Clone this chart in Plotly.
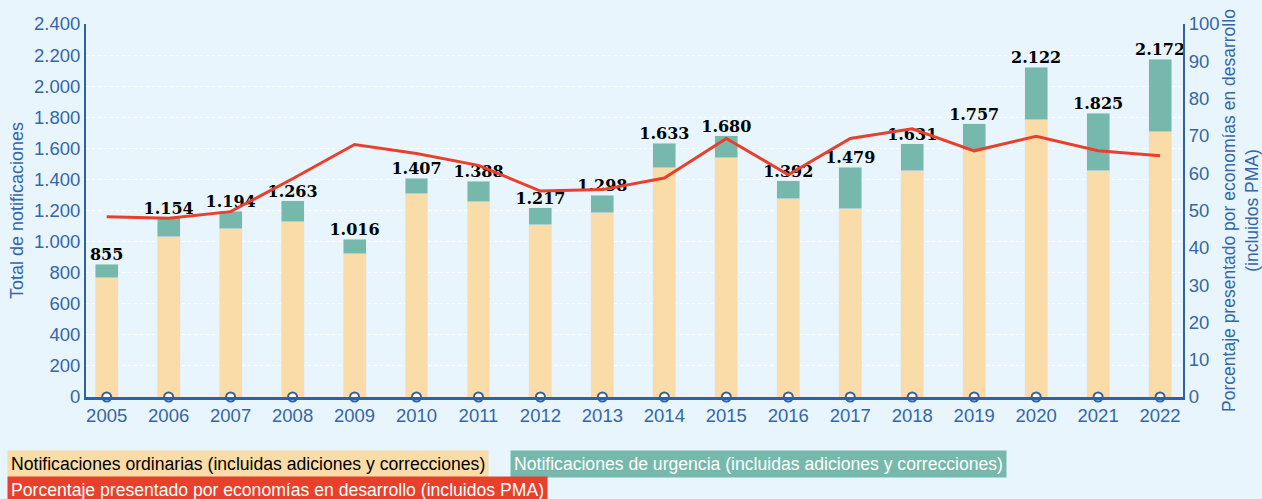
import plotly.graph_objects as go

years = [str(y) for y in range(2005, 2023)]
ordinarias = [768, 1031, 1083, 1128, 922, 1308, 1257, 1109, 1186, 1475, 1540, 1276, 1212, 1456, 1591, 1784, 1456, 1707]
urgencia = [87, 123, 111, 135, 94, 99, 131, 108, 112, 158, 140, 116, 267, 175, 166, 338, 369, 465]
porcentaje = [48.3, 47.9, 49.7, 58.5, 67.7, 65.3, 62.1, 55.2, 55.6, 58.7, 69.3, 59.6, 69.3, 71.9, 66.0, 69.9, 66.0, 64.7]
totales = [o + u for o, u in zip(ordinarias, urgencia)]
left_ticks = list(range(0, 2401, 200))
right_ticks = list(range(0, 101, 10))

BG = "#E8F5FD"
BLUE = "#2E62A4"
TICK = "#3566A6"
PEACH = "#FADCA8"
TEAL = "#76B9AC"
RED = "#E8402C"

fig = go.Figure()
fig.add_trace(go.Bar(x=years, y=ordinarias, marker_color=PEACH, width=0.37,
                     name="Notificaciones ordinarias (incluidas adiciones y correcciones)"))
fig.add_trace(go.Bar(x=years, y=urgencia, marker_color=TEAL, width=0.37,
                     name="Notificaciones de urgencia (incluidas adiciones y correcciones)"))
fig.add_trace(go.Scatter(x=years, y=porcentaje, mode="lines", yaxis="y2",
                         line=dict(color=RED, width=3),
                         name="Porcentaje presentado por economías en desarrollo (incluidos PMA)"))
fig.add_trace(go.Scatter(x=years, y=totales, mode="text", texttemplate="%{y:,d}",
                         textposition="top center",
                         textfont=dict(family="DejaVu Serif", size=16, color="black", weight="bold"),
                         showlegend=False, cliponaxis=False))
fig.add_trace(go.Scatter(x=years, y=[0] * len(years), mode="markers", cliponaxis=False,
                         marker=dict(size=9, color="white", line=dict(color=BLUE, width=2)),
                         showlegend=False))

fig.update_layout(
    width=1262, height=499,
    barmode="stack",
    showlegend=False,
    separators=",.",
    paper_bgcolor=BG, plot_bgcolor=BG,
    margin=dict(l=86, r=79, t=24, b=102),
    font=dict(family="Liberation Sans, Arial", color=TICK, size=18),
    xaxis=dict(type="category", range=[-0.334, 17.37], showline=True, linecolor=BLUE,
               linewidth=2.5, ticks="", showgrid=False, automargin=False,
               tickfont=dict(size=18.5, color=TICK)),
    yaxis=dict(range=[0, 2400], tickvals=left_ticks, tickformat=",d", showline=True,
               linecolor=BLUE, linewidth=2, gridcolor="white", griddash="dot", gridwidth=1,
               zeroline=False, ticks="", automargin=False, tickfont=dict(size=18.5, color=TICK),
               title=dict(text="Total de notificaciones", font=dict(size=18, color=TICK), standoff=6)),
    yaxis2=dict(range=[0, 100], tickvals=right_ticks, overlaying="y", side="right",
                showline=True, linecolor=BLUE, linewidth=2, showgrid=False, zeroline=False,
                ticks="", automargin=False, tickfont=dict(size=18.5, color=TICK),
                title=dict(text="Porcentaje presentado por economías en desarrollo<br>(incluidos PMA)",
                           font=dict(size=17.5, color=TICK), standoff=13)),
)

legend_items = [
    ("Notificaciones ordinarias (incluidas adiciones y correcciones)", PEACH, "black", 7, 463.5),
    ("Notificaciones de urgencia (incluidas adiciones y correcciones)", TEAL, "white", 510, 463.5),
    ("Porcentaje presentado por economías en desarrollo (incluidos PMA)", RED, "white", 7, 490),
]
for text, bg, fc, x0, yc in legend_items:
    fig.add_annotation(text=text, xref="paper", yref="paper",
                       x=(x0 - 86) / 1097, y=(397 - yc) / 373,
                       xanchor="left", yanchor="middle", showarrow=False,
                       bgcolor=bg, borderpad=3,
                       font=dict(family="Liberation Sans, Arial", size=17.6, color=fc))

fig.write_html("out.html", config={"displayModeBar": False},
               post_script="document.body.style.margin='0';")
